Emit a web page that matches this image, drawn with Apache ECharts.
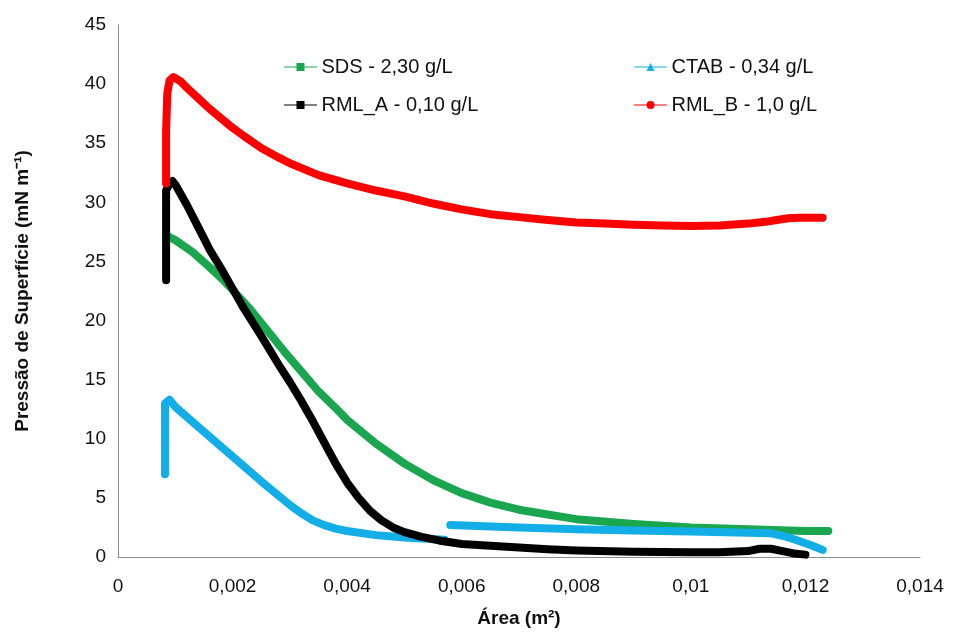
<!DOCTYPE html>
<html>
<head>
<meta charset="utf-8">
<script src="https://cdn.jsdelivr.net/npm/echarts@6/dist/echarts.min.js"></script>
<style>
  html, body { margin: 0; padding: 0; background: #fff; }
  #chart { width: 956px; height: 633px; }
</style>
</head>
<body>
<div id="chart"></div>
<script>
// area (m2) / pressure (mN/m)
const sdsX = [0.00084, 0.001, 0.0013, 0.0016, 0.0018, 0.002, 0.0023, 0.0026, 0.0029, 0.0032, 0.0035, 0.0038, 0.004, 0.0045, 0.005, 0.0055, 0.006, 0.0065, 0.007, 0.0075, 0.008, 0.009, 0.01, 0.011, 0.012, 0.0124]
const sdsY = [27.2, 26.8, 25.8, 24.5, 23.6, 22.6, 21.0, 19.2, 17.4, 15.7, 14.0, 12.6, 11.6, 9.6, 7.9, 6.5, 5.4, 4.6, 4.0, 3.6, 3.2, 2.8, 2.5, 2.35, 2.2, 2.2]

const ctabX = [0.00082, 0.00082, 0.0009, 0.001, 0.0015, 0.002, 0.0025, 0.003, 0.0032, 0.0034, 0.0036, 0.0038, 0.004, 0.0045, 0.005, 0.0057, null, 0.0058, 0.007, 0.008, 0.009, 0.01, 0.011, 0.0114, 0.0116, 0.0118, 0.0121, 0.0123]
const ctabY = [7.0, 13.0, 13.3, 12.7, 10.6, 8.5, 6.4, 4.4, 3.7, 3.1, 2.7, 2.4, 2.2, 1.85, 1.65, 1.45, null, 2.7, 2.5, 2.35, 2.25, 2.15, 2.05, 2.0, 1.8, 1.5, 1.0, 0.6]

const rmlAX = [0.00084, 0.00084, 0.0009, 0.00095, 0.001, 0.0012, 0.0014, 0.0016, 0.0018, 0.002, 0.0022, 0.0025, 0.0028, 0.003, 0.0032, 0.0034, 0.0036, 0.0038, 0.004, 0.0042, 0.0044, 0.0046, 0.0048, 0.005, 0.0053, 0.0056, 0.006, 0.0065, 0.007, 0.0075, 0.008, 0.009, 0.01, 0.0105, 0.011, 0.0112, 0.0114, 0.0116, 0.0118, 0.012]
const rmlAY = [23.4, 31.0, 31.6, 31.8, 31.5, 29.8, 27.9, 26.0, 24.4, 22.7, 21.0, 18.7, 16.3, 14.8, 13.2, 11.5, 9.7, 7.9, 6.3, 5.0, 3.9, 3.1, 2.5, 2.1, 1.7, 1.4, 1.1, 0.95, 0.8, 0.65, 0.55, 0.45, 0.4, 0.4, 0.5, 0.7, 0.7, 0.5, 0.3, 0.2]

const rmlBX = [0.00084, 0.00084, 0.00086, 0.0009, 0.00097, 0.0011, 0.0012, 0.0014, 0.0016, 0.0018, 0.002, 0.0022, 0.0025, 0.0028, 0.003, 0.0035, 0.004, 0.0045, 0.005, 0.0055, 0.006, 0.0065, 0.007, 0.0075, 0.008, 0.0085, 0.009, 0.0095, 0.01, 0.0105, 0.011, 0.0113, 0.0115, 0.0117, 0.0119, 0.0123]
const rmlBY = [31.6, 36, 39.2, 40.3, 40.6, 40.2, 39.7, 38.8, 37.9, 37.1, 36.3, 35.6, 34.6, 33.8, 33.3, 32.3, 31.6, 31.0, 30.5, 29.9, 29.4, 29.0, 28.75, 28.5, 28.3, 28.2, 28.1, 28.05, 28.0, 28.05, 28.2, 28.35, 28.5, 28.65, 28.7, 28.7]

const seriesNames = ['SDS - 2,30 g/L', 'CTAB - 0,34 g/L', 'RML_A - 0,10 g/L', 'RML_B - 1,0 g/L']
const seriesColors = ['#1aa64f', '#13aee8', '#000000', '#ff0000']
const seriesSymbols = ['rect', 'triangle', 'rect', 'circle']

function pairs(xs, ys) {
  return xs.map((x, i) => (x === null ? [null, null] : [x, ys[i]]))
}

const allData = [pairs(sdsX, sdsY), pairs(ctabX, ctabY), pairs(rmlAX, rmlAY), pairs(rmlBX, rmlBY)]

const myChart = echarts.init(document.getElementById('chart'))

const legendText = {fontSize: 20, color: '#111', fontFamily: 'Liberation Sans'}

const option = {
  animation: false,
  textStyle: {fontFamily: 'Liberation Sans'},
  grid: {left: 118, right: 36, top: 25, bottom: 74},
  legend: [
    {
      orient: 'vertical', left: 279, top: 52, itemGap: 18,
      itemWidth: 32, itemHeight: 10,
      lineStyle: {width: 1},
      textStyle: legendText,
      data: [seriesNames[0], seriesNames[2]]
    },
    {
      orient: 'vertical', left: 629, top: 52, itemGap: 18,
      itemWidth: 32, itemHeight: 10,
      lineStyle: {width: 1},
      textStyle: legendText,
      data: [seriesNames[1], seriesNames[3]]
    }
  ],
  xAxis: {
    type: 'value', min: 0, max: 0.014, interval: 0.002,
    name: 'Área (m²)', nameLocation: 'middle', nameGap: 52,
    nameTextStyle: {fontSize: 19, fontWeight: 'bold', color: '#111'},
    axisLine: {lineStyle: {color: '#8c8c8c', width: 1}},
    axisTick: {show: false},
    splitLine: {show: false},
    axisLabel: {
      fontSize: 19, color: '#111', margin: 20,
      formatter: v => String(parseFloat(v.toFixed(3))).replace('.', ',')
    }
  },
  yAxis: {
    type: 'value', min: 0, max: 45, interval: 5,
    name: 'Pressão de Superfície (mN m⁻¹)', nameLocation: 'middle', nameGap: 86,
    nameTextStyle: {fontSize: 19, fontWeight: 'bold', color: '#111'},
    axisLine: {show: true, lineStyle: {color: '#8c8c8c', width: 1}},
    axisTick: {show: false},
    splitLine: {show: false},
    axisLabel: {fontSize: 19, color: '#111', margin: 12}
  },
  series: allData.map((d, i) => ({
    name: seriesNames[i],
    type: 'line',
    data: d,
    symbol: seriesSymbols[i],
    symbolSize: 8,
    showSymbol: false,
    connectNulls: false,
    color: seriesColors[i],
    lineStyle: {width: 8, color: seriesColors[i], cap: 'round', join: 'round'},
    itemStyle: {color: seriesColors[i]}
  }))
}

myChart.setOption(option)
</script>
</body>
</html>
